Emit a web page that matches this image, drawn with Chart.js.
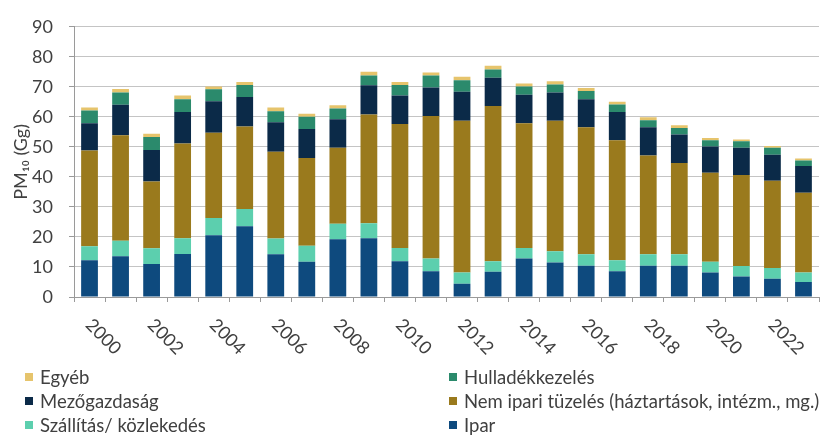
<!DOCTYPE html>
<html>
<head>
<meta charset="utf-8">
<script src="https://cdn.jsdelivr.net/npm/chart.js@4.4.0/dist/chart.umd.min.js"></script>
<style>
  body { margin: 0; background: #fff; }
  #wrap { position: relative; width: 836px; height: 437px; }
  #legend {
    position: absolute; left: 22px; top: 365px; width: 814px;
    display: grid; grid-template-columns: 424px 390px;
    font: 18.5px Lato, sans-serif; color: #404040;
  }
  .item { height: 24px; display: flex; align-items: center; white-space: nowrap; }
  .box { width: 8px; height: 8px; margin: 0 7px 0 3px; flex: none; }
</style>
</head>
<body>
<div id="wrap">
  <canvas id="chart" width="836" height="437"></canvas>
  <div id="legend"></div>
</div>
<script>
// PM10 kibocsátás ágazatonként (Gg), 2000-2023
const years = ['2000','2001','2002','2003','2004','2005','2006','2007','2008','2009','2010','2011',
               '2012','2013','2014','2015','2016','2017','2018','2019','2020','2021','2022','2023'];

const ipar      = [12.2,13.6,11.0,14.3,20.6,23.6,14.2,11.7,19.2,19.6,11.9, 8.6, 4.4, 8.4,12.8,11.5,10.4, 8.6,10.4,10.4, 8.2, 6.8, 6.1, 5.0];
const szallitas = [ 4.7, 5.1, 5.2, 5.3, 5.7, 5.7, 5.3, 5.4, 5.2, 5.0, 4.4, 4.2, 3.8, 3.5, 3.5, 3.7, 3.8, 3.6, 3.8, 3.8, 3.5, 3.5, 3.6, 3.2];
const nemIpari  = [31.9,35.2,22.3,31.5,28.4,27.5,28.9,29.2,25.3,36.2,41.3,47.5,50.5,51.7,41.6,43.5,42.3,40.0,32.9,30.4,29.7,30.3,29.0,26.5];
const mezogazd  = [ 9.1,10.1,10.5,10.5,10.5, 9.8, 9.8, 9.7, 9.5, 9.7, 9.5, 9.5, 9.7, 9.4, 9.5, 9.4, 9.4, 9.4, 9.4, 9.5, 8.7, 9.1, 8.7, 8.9];
const hulladek  = [ 4.2, 4.1, 4.3, 4.3, 4.0, 4.0, 3.7, 4.0, 3.6, 3.3, 3.5, 4.0, 3.8, 2.8, 2.7, 2.7, 2.7, 2.5, 2.4, 2.2, 2.1, 2.2, 2.3, 1.9];
const egyeb     = [ 1.0, 1.2, 1.1, 1.2, 0.9, 1.0, 1.2, 1.0, 1.1, 1.2, 1.0, 1.0, 1.2, 1.2, 1.0, 1.1, 1.0, 0.9, 1.0, 0.9, 0.8, 0.6, 0.6, 0.6];

const yTicks = [0,10,20,30,40,50,60,70,80,90];

// stacking order bottom -> top
const series = [
  { label: 'Ipar',                                       data: ipar,      color: '#0e4a7e' },
  { label: 'Szállítás/ közlekedés',                      data: szallitas, color: '#5ccfae' },
  { label: 'Nem ipari tüzelés (háztartások, intézm., mg.)', data: nemIpari, color: '#9a7a1d' },
  { label: 'Mezőgazdaság',                               data: mezogazd,  color: '#0b2a48' },
  { label: 'Hulladékkezelés',                            data: hulladek,  color: '#2b8a6c' },
  { label: 'Egyéb',                                      data: egyeb,     color: '#e6c46c' }
];

const textColor = '#404040';
const font = 'Lato, sans-serif';

// x labels rotated downward (+45deg), starting at the bar centre
const xLabelPlugin = {
  id: 'xLabels',
  afterDraw(chart) {
    const sx = chart.scales.x, ctx = chart.ctx;
    ctx.save();
    ctx.font = '18px ' + font;
    ctx.fillStyle = textColor;
    ctx.textAlign = 'left';
    ctx.textBaseline = 'middle';
    years.forEach((y, i) => {
      if (i % 2) return;
      ctx.save();
      ctx.translate(sx.getPixelForValue(i) - 1, sx.top + 25);
      ctx.rotate(Math.PI / 4);
      ctx.fillText(y, 0, 0);
      ctx.restore();
    });
    ctx.restore();
  }
};

const chart = new Chart(document.getElementById('chart'), {
  type: 'bar',
  data: {
    labels: years,
    datasets: series.map(s => ({
      label: s.label,
      data: s.data,
      backgroundColor: s.color,
      borderWidth: 0,
      barPercentage: 0.54,
      categoryPercentage: 1.0
    }))
  },
  options: {
    responsive: false,
    animation: false,
    layout: { padding: { top: 19, right: 17, left: 0, bottom: 0 } },
    plugins: { legend: { display: false }, tooltip: { enabled: false } },
    scales: {
      x: {
        stacked: true,
        grid: { display: true, drawOnChartArea: false, drawTicks: true, tickLength: 5, offset: true, color: '#9a9a9a' },
        border: { display: true, color: '#9a9a9a' },
        ticks: { autoSkip: false, maxRotation: 0, callback: () => '' },
        afterFit(scale) { scale.height = 437 - 297; }
      },
      y: {
        stacked: true,
        min: 0, max: 90,
        afterBuildTicks(scale) { scale.ticks = yTicks.map(v => ({ value: v })); },
        grid: {
          color: '#c4c4c4', borderDash: [2, 2], tickLength: 5,
          tickColor: '#9a9a9a', tickBorderDash: []
        },
        border: { display: true, color: '#9a9a9a' },
        ticks: { padding: 16, color: textColor, font: { family: font, size: 18 } },
        title: {
          display: true, text: 'PM₁₀ (Gg)', color: textColor,
          font: { family: font, size: 18 }, padding: { top: 10, bottom: 0 }
        },
        afterFit(scale) { scale.width = 74; }
      }
    }
  },
  plugins: [xLabelPlugin]
});

// two-column legend, same order as in the original (top series first)
const legendOrder = [5, 4, 3, 2, 1, 0];
const legendEl = document.getElementById('legend');
legendOrder.forEach(i => {
  const ds = chart.data.datasets[i];
  const item = document.createElement('div');
  item.className = 'item';
  item.innerHTML = '<span class="box" style="background:' + ds.backgroundColor + '"></span>' + ds.label;
  legendEl.appendChild(item);
});
</script>
</body>
</html>
